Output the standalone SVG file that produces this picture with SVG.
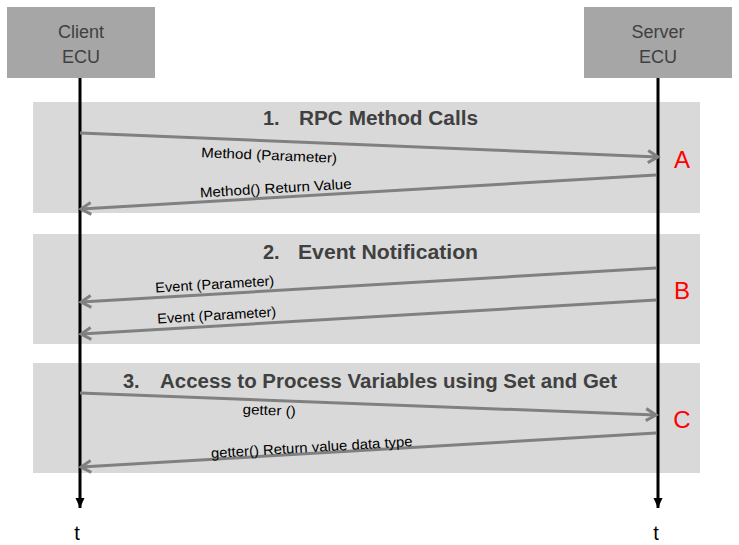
<svg xmlns="http://www.w3.org/2000/svg" width="739" height="545" viewBox="0 0 739 545">
<style>
.hdr{fill:#a6a6a6}
.hdrt{font-family:"Liberation Sans",Arial,sans-serif;font-size:18px;fill:#404040;text-anchor:middle}
.band{fill:#d9d9d9}
.ttl{font-family:"Liberation Sans",Arial,sans-serif;font-size:20px;font-weight:bold;fill:#404040}
.life{stroke:#000;stroke-width:3;fill:none}
.msg{stroke:#808080;stroke-width:3;fill:none}
.lbl{font-family:"Liberation Sans",Arial,sans-serif;font-size:14px;fill:#000;text-anchor:middle}
.red{font-family:"Liberation Sans",Arial,sans-serif;font-size:24px;fill:#ff0000;text-anchor:middle}
.t{font-family:"Liberation Sans",Arial,sans-serif;font-size:20px;fill:#000;text-anchor:middle}
</style>
<defs>
<marker id="open" markerUnits="userSpaceOnUse" markerWidth="16" markerHeight="16" viewBox="0 0 16 16" refX="13" refY="8" orient="auto">
<path d="M3,2 L13,8 L3,14" fill="none" stroke="#808080" stroke-width="3"/>
</marker>
<marker id="solid" markerUnits="userSpaceOnUse" markerWidth="12" markerHeight="12" viewBox="0 0 12 12" refX="11" refY="6" orient="auto">
<path d="M1,1.5 L11,6 L1,10.5 Z" fill="#000"/>
</marker>
</defs>
<g id="bands">
<rect class="band" x="33" y="102" width="667" height="111"/>
<rect class="band" x="33" y="234" width="667" height="110"/>
<rect class="band" x="33" y="363" width="667" height="110"/>
<text class="ttl" x="263" y="125">1.</text>
<text class="ttl" x="299" y="125" textLength="179" lengthAdjust="spacingAndGlyphs">RPC Method Calls</text>
<text class="ttl" x="263" y="259">2.</text>
<text class="ttl" x="298" y="259" textLength="180" lengthAdjust="spacingAndGlyphs">Event Notification</text>
<text class="ttl" x="123" y="388">3.</text>
<text class="ttl" x="160" y="388" textLength="457" lengthAdjust="spacingAndGlyphs">Access to Process Variables using Set and Get</text>
</g>
<g id="client">
<rect class="hdr" x="7" y="7" width="148" height="71"/>
<text class="hdrt" x="81" y="38">Client</text>
<text class="hdrt" x="81" y="63">ECU</text>
<line class="life" x1="80" y1="78" x2="80" y2="508" marker-end="url(#solid)"/>
<text class="t" x="77" y="540">t</text>
</g>
<g id="server">
<rect class="hdr" x="584" y="7" width="148" height="71"/>
<text class="hdrt" x="658" y="38">Server</text>
<text class="hdrt" x="658" y="63">ECU</text>
<line class="life" x1="658" y1="78" x2="658" y2="508" marker-end="url(#solid)"/>
<text class="t" x="656" y="540">t</text>
</g>
<g id="connectors">
<line class="msg" x1="80" y1="133" x2="658" y2="157" marker-end="url(#open)"/>
<line class="msg" x1="656" y1="175" x2="81" y2="209" marker-end="url(#open)"/>
<line class="msg" x1="656" y1="268" x2="81" y2="302" marker-end="url(#open)"/>
<line class="msg" x1="656" y1="300" x2="81" y2="334" marker-end="url(#open)"/>
<line class="msg" x1="80" y1="393" x2="656" y2="415" marker-end="url(#open)"/>
<line class="msg" x1="656" y1="433" x2="81" y2="467" marker-end="url(#open)"/>
</g>
<g id="labels">
<text class="lbl" transform="translate(269,160) rotate(2.4)" textLength="136" lengthAdjust="spacingAndGlyphs">Method (Parameter)</text>
<text class="lbl" transform="translate(276,193) rotate(-3.4)" textLength="152" lengthAdjust="spacingAndGlyphs">Method() Return Value</text>
<text class="lbl" transform="translate(215,289) rotate(-3.4)" textLength="119" lengthAdjust="spacingAndGlyphs">Event (Parameter)</text>
<text class="lbl" transform="translate(217,320) rotate(-3.4)" textLength="119" lengthAdjust="spacingAndGlyphs">Event (Parameter)</text>
<text class="lbl" transform="translate(269,415) rotate(2.2)" textLength="53" lengthAdjust="spacingAndGlyphs">getter ()</text>
<text class="lbl" transform="translate(312,452) rotate(-3.4)" textLength="202" lengthAdjust="spacingAndGlyphs">getter() Return value data type</text>
</g>
<g id="markers-abc">
<text class="red" x="682" y="168">A</text>
<text class="red" x="682" y="299">B</text>
<text class="red" x="682" y="428">C</text>
</g>
</svg>
